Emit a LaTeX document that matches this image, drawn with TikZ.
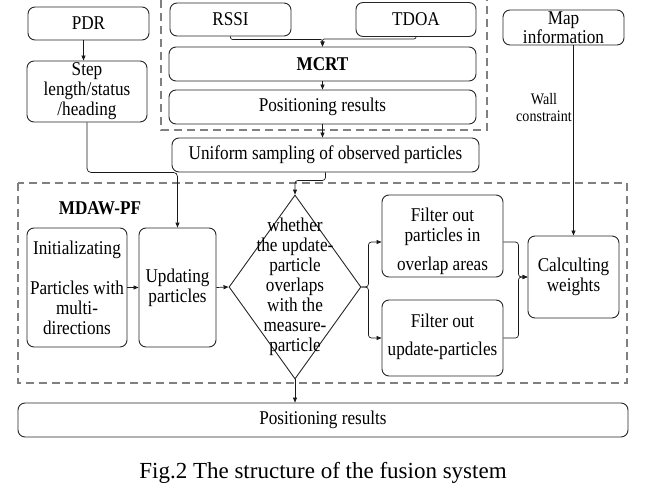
\documentclass[tikz,border=0pt]{standalone}
\usepackage{fontspec}
\setmainfont[FakeStretch=0.88]{Liberation Serif}
\newfontfamily\capfont{Liberation Serif}
\usetikzlibrary{arrows.meta,shapes.geometric}
\newcommand\msz{\fontsize{19.5}{20}\selectfont}
\newcommand\ssz{\fontsize{16}{17}\selectfont}
\tikzset{
  box/.style={draw=black!85, rounded corners=7pt, line width=0.9pt, inner sep=0pt, align=center, font=\msz},
  txt/.style={inner sep=0pt, align=center, font=\msz},
  arr/.style={-{Triangle[length=5pt,width=4pt]}, line width=0.7pt, draw=black!90},
  dashbox/.style={draw=black!50, dash pattern=on 8pt off 5pt, line width=1.1pt},
}
\begin{document}
\begin{tikzpicture}[x=1pt,y=-1pt]
\useasboundingbox (0,0) rectangle (657,493);
% dashed frames
\draw[dashbox] (161,0) -- (161,130) -- (487,130) -- (487,0);
\draw[dashbox] (18,183) rectangle (627,383);
% top nodes
\node[box, minimum width=121, minimum height=33] (pdr) at (88.5,23.5) {PDR};
\node[box, minimum width=120, minimum height=61] (step) at (87,91.5) {Step\\length/status\\/heading};
\node[box, minimum width=121, minimum height=33] (rssi) at (230.5,19.5) {RSSI};
\node[box, minimum width=120, minimum height=34] (tdoa) at (416,19.5) {TDOA};
\node[box, minimum width=307, minimum height=34] (mcrt) at (322.5,64) {\textbf{MCRT}};
\node[box, minimum width=307, minimum height=34] (pos1) at (322.5,107) {Positioning results};
\node[box, minimum width=307, minimum height=34] (samp) at (325.5,155) {Uniform sampling of observed particles};
\node[box, minimum width=121, minimum height=35] (map) at (563.5,27.5) {};
\node[txt, font=\fontsize{19.5}{19}\selectfont] (maptxt) at (563.5,27.5) {Map\\information};
\node[txt, font=\ssz] (wall) at (544,108) {Wall\\constraint};
% MDAW-PF
\node[txt, font=\msz\bfseries] (mdaw) at (100,208) {MDAW-PF};
\node[box, minimum width=100, minimum height=119] (init) at (77,287.5) {Initializating\\[20pt]Particles with\\multi-\\directions};
\node[box, minimum width=77, minimum height=119] (upd) at (177.5,287.5) {Updating\\particles};
\node[draw=black!85, line width=0.9pt, diamond, inner sep=0pt, minimum width=132, minimum height=184] (dia) at (295,287) {};
\node[txt] (diatxt) at (295,287) {whether\\the update-\\particle\\overlaps\\with the\\measure-\\particle};
\node[box, minimum width=121, minimum height=82] (f1) at (442.5,236) {};
\node[txt] (f1txt) at (442.5,241.5) {Filter out\\particles in\\[9pt]overlap areas};
\node[box, minimum width=121, minimum height=76] (f2) at (442.5,338) {};
\node[txt] (f2txt) at (442.5,337) {Filter out\\[8pt]update-particles};
\node[box, minimum width=91, minimum height=82] (calc) at (573.5,277) {Calculting\\weights};
\node[box, minimum width=610, minimum height=34] (pos2) at (323,420) {Positioning results};
\node[inner sep=0pt, font=\capfont\fontsize{23}{25}\selectfont] (cap) at (323,473) {Fig.2 The structure of the fusion system};
% connectors
\draw[arr] ([xshift=-5pt]pdr.south) -- ([xshift=-5pt]pdr.south |- step.north);
\draw[arr, rounded corners=4pt] (step.south) |- (upd.north |- samp.south) -- (upd.north);
\draw[arr, rounded corners=2pt] (rssi.south) -- ++(0,3) -| (mcrt.north);
\draw[arr, rounded corners=2pt] (tdoa.south) -- ++(0,2) -| (mcrt.north);
\draw[arr] (mcrt.south) -- (pos1.north);
\draw[arr] (pos1.south) -- (pos1.south |- samp.north);
\draw[arr, rounded corners=3pt] (samp.south) -- ++(0,8) -| (dia.north);
\draw[arr] (init.east) -- (upd.west);
\draw[arr] (upd.east) -- (dia.west);
\draw[arr, rounded corners=3pt] (dia.east) -- ++(7,0) |- ([yshift=-6pt]f1.west);
\draw[arr, rounded corners=3pt] (dia.east) -- ++(7,0) |- (f2.west);
\draw[arr, rounded corners=3pt] ([yshift=-6pt]f1.east) -- ++(15,0) |- (calc.west);
\draw[arr, rounded corners=3pt] (f2.east) -- ++(15,0) |- (calc.west);
\draw[arr] (map.south -| calc.north) -- (calc.north);
\draw[arr] (dia.south) -- (dia.south |- pos2.north);
\end{tikzpicture}
\end{document}
